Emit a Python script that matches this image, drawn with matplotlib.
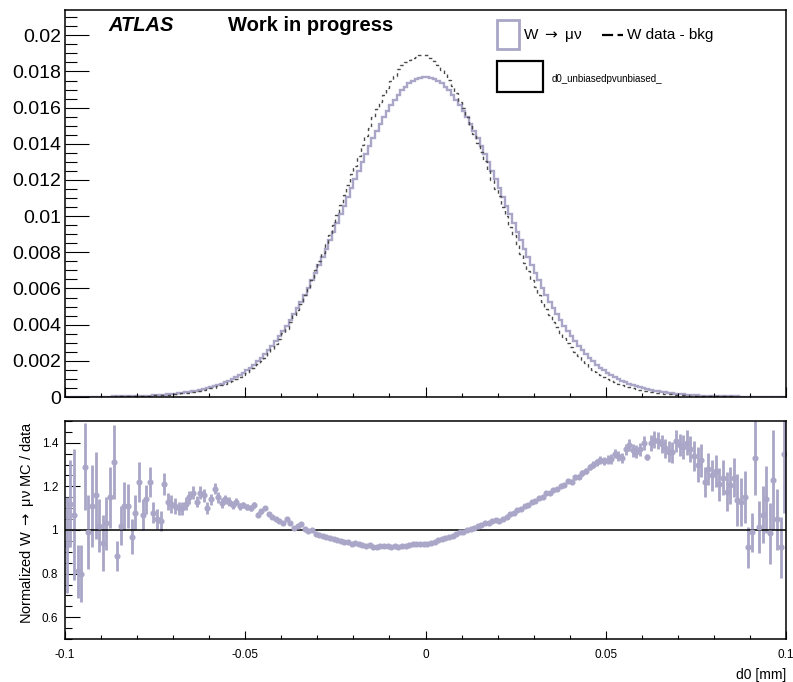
import numpy as np
import matplotlib
matplotlib.use("Agg")
import matplotlib.pyplot as plt
from matplotlib.patches import Rectangle
from matplotlib.lines import Line2D
from matplotlib.ticker import MultipleLocator, FormatStrFormatter

plt.rcParams['font.family'] = ['Liberation Sans', 'DejaVu Sans']

# binning of d0 [mm]
x_lo, x_hi, n_bins = -0.1, 0.1, 200

# normalized W -> mu nu MC, per bin
mc_w = [
    0.000008, 0.000009, 0.000010, 0.000011, 0.000012, 0.000013, 0.000014, 0.000015, 0.000017, 0.000019,
    0.000021, 0.000023, 0.000025, 0.000028, 0.000031, 0.000034, 0.000038, 0.000042, 0.000047, 0.000052,
    0.000058, 0.000064, 0.000072, 0.000080, 0.000090, 0.00010, 0.00011, 0.00013, 0.00014, 0.00016,
    0.00018, 0.00020, 0.00022, 0.00025, 0.00028, 0.00031, 0.00035, 0.00039, 0.00043, 0.00048,
    0.00054, 0.00060, 0.00067, 0.00074, 0.00082, 0.00091, 0.00100, 0.00111, 0.00122, 0.00134,
    0.00147, 0.00163, 0.00179, 0.00197, 0.00216, 0.00237, 0.00259, 0.00283, 0.00308, 0.00335,
    0.00363, 0.00393, 0.00424, 0.00457, 0.00492, 0.00528, 0.00566, 0.00605, 0.00646, 0.00688,
    0.00731, 0.00776, 0.00821, 0.00867, 0.00914, 0.00962, 0.01010, 0.01058, 0.01107, 0.01155,
    0.01203, 0.01250, 0.01297, 0.01342, 0.01387, 0.01430, 0.01471, 0.01511, 0.01548, 0.01583,
    0.01615, 0.01645, 0.01672, 0.01696, 0.01716, 0.01734, 0.01748, 0.01759, 0.01766, 0.01770,
    0.01770, 0.01766, 0.01759, 0.01748, 0.01734, 0.01716, 0.01696, 0.01672, 0.01645, 0.01615,
    0.01583, 0.01548, 0.01511, 0.01471, 0.01430, 0.01387, 0.01342, 0.01297, 0.01250, 0.01203,
    0.01155, 0.01107, 0.01058, 0.01010, 0.00962, 0.00914, 0.00867, 0.00821, 0.00776, 0.00731,
    0.00688, 0.00646, 0.00605, 0.00566, 0.00528, 0.00492, 0.00457, 0.00424, 0.00393, 0.00363,
    0.00335, 0.00308, 0.00283, 0.00259, 0.00237, 0.00216, 0.00197, 0.00179, 0.00163, 0.00147,
    0.00134, 0.00122, 0.00111, 0.00100, 0.00091, 0.00082, 0.00074, 0.00067, 0.00060, 0.00054,
    0.00048, 0.00043, 0.00039, 0.00035, 0.00031, 0.00028, 0.00025, 0.00022, 0.00020, 0.00018,
    0.00016, 0.00014, 0.00013, 0.00011, 0.00010, 0.000090, 0.000080, 0.000072, 0.000064, 0.000058,
    0.000052, 0.000047, 0.000042, 0.000038, 0.000034, 0.000031, 0.000028, 0.000025, 0.000023, 0.000021,
    0.000019, 0.000017, 0.000015, 0.000014, 0.000013, 0.000012, 0.000011, 0.000010, 0.000009, 0.000008,
]

# normalized W data - bkg, per bin
data_w = [
    0.0000086, 0.0000080, 0.0000093, 0.0000136, 0.0000150, 0.0000101, 0.0000141, 0.0000135, 0.0000147, 0.0000186,
    0.0000223, 0.0000223, 0.0000217, 0.0000214, 0.0000352, 0.0000333, 0.0000342, 0.0000378, 0.0000485, 0.0000481,
    0.0000475, 0.0000598, 0.0000632, 0.0000656, 0.0000833, 0.0000952, 0.000106, 0.000107, 0.000124, 0.000143,
    0.000162, 0.000182, 0.000200, 0.000223, 0.000243, 0.000265, 0.000310, 0.000333, 0.000371, 0.000436,
    0.000474, 0.000504, 0.000583, 0.000658, 0.000719, 0.000805, 0.000897, 0.000982, 0.00110, 0.00120,
    0.00133, 0.00148, 0.00161, 0.00184, 0.00199, 0.00215, 0.00241, 0.00267, 0.00293, 0.00321,
    0.00352, 0.00374, 0.00412, 0.00452, 0.00482, 0.00514, 0.00563, 0.00608, 0.00646, 0.00701,
    0.00750, 0.00798, 0.00848, 0.00898, 0.00952, 0.01007, 0.01063, 0.01117, 0.01170, 0.01233,
    0.01278, 0.01335, 0.01392, 0.01446, 0.01490, 0.01551, 0.01592, 0.01632, 0.01670, 0.01711,
    0.01748, 0.01776, 0.01815, 0.01834, 0.01853, 0.01861, 0.01872, 0.01879, 0.01891, 0.01893,
    0.01891, 0.01877, 0.01859, 0.01836, 0.01810, 0.01784, 0.01752, 0.01720, 0.01679, 0.01631,
    0.01599, 0.01551, 0.01503, 0.01456, 0.01405, 0.01354, 0.01303, 0.01254, 0.01202, 0.01150,
    0.01110, 0.01052, 0.01000, 0.00942, 0.00894, 0.00839, 0.00792, 0.00740, 0.00697, 0.00648,
    0.00608, 0.00564, 0.00526, 0.00485, 0.00451, 0.00416, 0.00385, 0.00352, 0.00326, 0.00297,
    0.00274, 0.00248, 0.00227, 0.00206, 0.00187, 0.00167, 0.00152, 0.00137, 0.00123, 0.00112,
    0.00101, 0.000920, 0.000822, 0.000746, 0.000684, 0.000599, 0.000532, 0.000491, 0.000441, 0.000394,
    0.000343, 0.000322, 0.000279, 0.000247, 0.000220, 0.000201, 0.000182, 0.000162, 0.000147, 0.000128,
    0.000115, 0.000101, 0.0000929, 0.0000803, 0.0000746, 0.0000692, 0.0000606, 0.0000590, 0.0000500, 0.0000464,
    0.0000409, 0.0000388, 0.0000339, 0.0000323, 0.0000282, 0.0000250, 0.0000246, 0.0000221, 0.0000200, 0.0000228,
    0.0000192, 0.0000128, 0.0000148, 0.0000131, 0.0000114, 0.0000122, 0.0000089, 0.0000095, 0.0000098, 0.0000059,
]

# MC / data ratio and its error, per bin
ratio = [
    0.93, 1.12, 1.07, 0.81, 0.80, 1.29, 0.99, 1.11, 1.16, 1.02,
    0.94, 1.03, 1.15, 1.31, 0.88, 1.02, 1.11, 1.11, 0.97, 1.08,
    1.22, 1.07, 1.14, 1.22, 1.08, 1.05, 1.04, 1.21, 1.13, 1.12,
    1.11, 1.10, 1.10, 1.12, 1.15, 1.17, 1.13, 1.17, 1.16, 1.10,
    1.14, 1.19, 1.15, 1.125, 1.14, 1.13, 1.115, 1.13, 1.11, 1.115,
    1.105, 1.10, 1.115, 1.07, 1.085, 1.10, 1.073, 1.06, 1.05, 1.043,
    1.03, 1.05, 1.03, 1.01, 1.02, 1.027, 1.005, 0.995, 1.00, 0.982,
    0.975, 0.972, 0.968, 0.965, 0.96, 0.955, 0.95, 0.947, 0.946, 0.937,
    0.941, 0.936, 0.932, 0.928, 0.931, 0.922, 0.924, 0.926, 0.927, 0.925,
    0.924, 0.926, 0.921, 0.925, 0.926, 0.932, 0.934, 0.936, 0.934, 0.935,
    0.936, 0.941, 0.946, 0.952, 0.958, 0.962, 0.968, 0.972, 0.98, 0.99,
    0.99, 0.998, 1.005, 1.01, 1.018, 1.024, 1.03, 1.034, 1.04, 1.046,
    1.041, 1.052, 1.058, 1.072, 1.076, 1.09, 1.095, 1.11, 1.113, 1.128,
    1.132, 1.146, 1.15, 1.168, 1.17, 1.183, 1.188, 1.204, 1.206, 1.224,
    1.222, 1.242, 1.245, 1.26, 1.27, 1.29, 1.30, 1.31, 1.32, 1.318,
    1.322, 1.326, 1.35, 1.34, 1.33, 1.37, 1.39, 1.365, 1.36, 1.37,
    1.40, 1.335, 1.40, 1.415, 1.41, 1.395, 1.375, 1.36, 1.357, 1.41,
    1.39, 1.38, 1.40, 1.37, 1.34, 1.30, 1.32, 1.22, 1.28, 1.25,
    1.27, 1.21, 1.24, 1.175, 1.205, 1.24, 1.137, 1.13, 1.15, 0.92,
    0.99, 1.33, 1.015, 1.07, 1.14, 0.985, 1.23, 1.05, 0.92, 1.35,
]
ratio_err = [
    0.22, 0.20, 0.30, 0.12, 0.13, 0.20, 0.17, 0.19, 0.20, 0.12,
    0.13, 0.12, 0.14, 0.17, 0.07, 0.09, 0.11, 0.10, 0.08, 0.08,
    0.09, 0.07, 0.065, 0.07, 0.05, 0.045, 0.045, 0.05, 0.04, 0.04,
    0.035, 0.03, 0.03, 0.03, 0.03, 0.03, 0.025, 0.03, 0.03, 0.028,
    0.027, 0.026, 0.024, 0.022, 0.021, 0.02, 0.018, 0.017, 0.016, 0.015,
    0.014, 0.013, 0.012, 0.011, 0.010, 0.010, 0.009, 0.009, 0.008, 0.008,
    0.007, 0.007, 0.007, 0.006, 0.006, 0.006, 0.006, 0.005, 0.005, 0.005,
    0.005, 0.005, 0.005, 0.005, 0.005, 0.005, 0.005, 0.005, 0.005, 0.005,
    0.004, 0.004, 0.004, 0.004, 0.004, 0.004, 0.004, 0.004, 0.004, 0.004,
    0.004, 0.004, 0.004, 0.004, 0.004, 0.004, 0.004, 0.004, 0.004, 0.004,
    0.004, 0.004, 0.004, 0.004, 0.004, 0.004, 0.004, 0.004, 0.004, 0.004,
    0.004, 0.004, 0.004, 0.004, 0.004, 0.004, 0.004, 0.004, 0.004, 0.004,
    0.005, 0.005, 0.005, 0.005, 0.005, 0.005, 0.005, 0.005, 0.005, 0.005,
    0.006, 0.006, 0.006, 0.007, 0.007, 0.008, 0.008, 0.009, 0.009, 0.010,
    0.010, 0.011, 0.012, 0.013, 0.014, 0.015, 0.016, 0.017, 0.018, 0.019,
    0.020, 0.021, 0.022, 0.023, 0.024, 0.025, 0.027, 0.028, 0.030, 0.031,
    0.033, 0.015, 0.036, 0.038, 0.040, 0.042, 0.044, 0.046, 0.048, 0.05,
    0.052, 0.055, 0.058, 0.06, 0.07, 0.08, 0.075, 0.07, 0.075, 0.07,
    0.075, 0.075, 0.08, 0.09, 0.085, 0.09, 0.12, 0.11, 0.12, 0.096,
    0.09, 0.17, 0.12, 0.13, 0.155, 0.14, 0.23, 0.14, 0.14, 0.27,
]

edges = np.linspace(x_lo, x_hi, n_bins + 1)
centers = 0.5 * (edges[1:] + edges[:-1])

lav = '#a9a6c8'
W, H = 793, 682
mc_label = 'W $\\rightarrow$ \u03bc\u03bd'

fig = plt.figure(figsize=(W / 100, H / 100), dpi=100)
ax1 = fig.add_axes([65 / W, 1 - 397 / H, 721 / W, 387 / H])
ax2 = fig.add_axes([65 / W, 1 - 639 / H, 721 / W, 218 / H])

# --- top pad: distributions ---
ax1.stairs(mc_w, edges, color=lav, lw=1.7)
ax1.stairs(data_w, edges, color='#4a4a4a', lw=1.0, linestyle=(0, (2.5, 2.5)))
ax1.set_xlim(x_lo, x_hi)
ax1.set_ylim(0, 0.0214)
ax1.yaxis.set_major_locator(MultipleLocator(0.002))
ax1.yaxis.set_minor_locator(MultipleLocator(0.0005))
ax1.yaxis.set_major_formatter(FormatStrFormatter('%g'))
ax1.xaxis.set_major_locator(MultipleLocator(0.05))
ax1.xaxis.set_minor_locator(MultipleLocator(0.01))
ax1.tick_params(axis='y', which='major', direction='in', length=17, width=0.8, labelsize=14, pad=3)
ax1.tick_params(axis='y', which='minor', direction='in', length=8.5, width=0.8)
ax1.tick_params(axis='x', which='major', direction='in', length=7, width=0.8, labelbottom=False)
ax1.tick_params(axis='x', which='minor', direction='in', length=3, width=0.8)

ax1.text(0.0596, 0.946, 'ATLAS', transform=ax1.transAxes, fontsize=14.5,
         fontweight='bold', fontstyle='italic')
ax1.text(0.226, 0.946, 'Work in progress', transform=ax1.transAxes, fontsize=14.5,
         fontweight='bold')

# legend drawn ROOT style
fig.add_artist(Rectangle((497 / W, 1 - 49 / H), 22 / W, 29 / H, fill=False,
                         edgecolor=lav, lw=2, transform=fig.transFigure))
fig.text(523 / W, 1 - 35 / H, mc_label, fontsize=11, va='center')
fig.add_artist(Line2D([602 / W, 623 / W], [1 - 35 / H, 1 - 35 / H], color='black',
                      lw=1.6, dashes=(5, 2), transform=fig.transFigure))
fig.text(627 / W, 1 - 35 / H, 'W data - bkg', fontsize=11, va='center')
fig.add_artist(Rectangle((497 / W, 1 - 92 / H), 46 / W, 31 / H, fill=False,
                         edgecolor='black', lw=1.6, transform=fig.transFigure))
fig.text(552 / W, 1 - 79 / H, 'd0_unbiasedpvunbiased_', fontsize=7, va='center')

# --- bottom pad: ratio ---
ax2.errorbar(centers, ratio, yerr=ratio_err, fmt='o', ms=3.4, color=lav,
             ecolor=lav, elinewidth=2.0, capsize=0)
ax2.axhline(1.0, color='black', lw=1.1)
ax2.set_xlim(x_lo, x_hi)
ax2.set_ylim(0.5, 1.5)
ax2.yaxis.set_major_locator(MultipleLocator(0.2))
ax2.yaxis.set_minor_locator(MultipleLocator(0.05))
ax2.yaxis.set_major_formatter(FormatStrFormatter('%g'))
ax2.xaxis.set_major_locator(MultipleLocator(0.05))
ax2.xaxis.set_minor_locator(MultipleLocator(0.01))
ax2.xaxis.set_major_formatter(FormatStrFormatter('%g'))
ax2.tick_params(axis='y', which='major', direction='in', length=11, width=0.8, labelsize=8.5, pad=5)
ax2.tick_params(axis='y', which='minor', direction='in', length=5, width=0.8)
ax2.tick_params(axis='x', which='major', direction='in', length=6, width=0.8, labelsize=8.5, pad=7)
ax2.tick_params(axis='x', which='minor', direction='in', length=3, width=0.8)
ax2.set_ylabel('Normalized ' + mc_label + ' MC / data', fontsize=10.5, loc='top', labelpad=4)
ax2.set_xlabel('d0 [mm]', fontsize=10, loc='right', labelpad=5)

for ax in (ax1, ax2):
    for sp in ax.spines.values():
        sp.set_linewidth(1.1)

fig.savefig('out.png', dpi=100)
